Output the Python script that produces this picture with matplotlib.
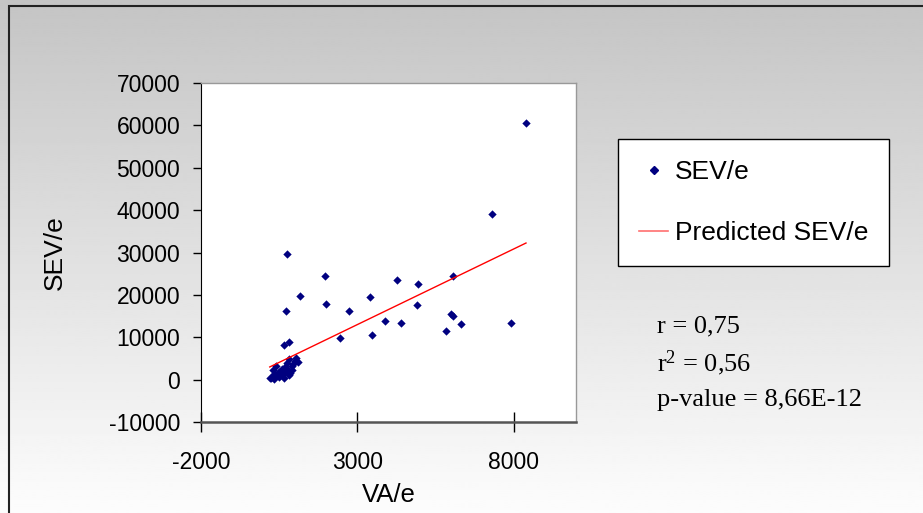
import numpy as np
import matplotlib
matplotlib.use("Agg")
import matplotlib.pyplot as plt
from matplotlib.lines import Line2D
from matplotlib.patches import Rectangle

# --- DATA ---
va_e = [8400, 7300, 750, 1975, 1180, 710, 2000, 2730, 3400, 4280, 4950, 6050,
        4920, 3880, 4400, 3470, 2450, 6010, 6050, 6320, 5850, 7930, 670, 800,
        200, 250, 300, 350, 400, 450, 500, 550, 600, 650, 700, 750, 800, 850,
        700, 400, 300, 900, 950, 1000, 1100, 800, 750, 1050, 600, 500, 900, 350]
sev_e = [60600, 39000, 29700, 24500, 19800, 16100, 17900, 16100, 19500, 23450, 22500, 24500,
         17600, 13800, 13300, 10600, 9900, 15400, 14900, 13100, 11400, 13300, 8200, 8800,
         400, 300, 600, 200, 900, 1500, 700, 2100, 1200, 400, 1800, 2600, 1000, 1600,
         3000, 3200, 2200, 2300, 3800, 4400, 4200, 4800, 4000, 5200, 2600, 1900, 3300, 1400]
stats_lines = ["r = 0,75", "r$^{2}$ = 0,56", "p-value = 8,66E-12"]

x = np.array(va_e, dtype=float)
y = np.array(sev_e, dtype=float)
slope, intercept = np.polyfit(x, y, 1)
x_fit = np.array([x.min(), x.max()])
y_fit = intercept + slope * x_fit

plt.rcParams['font.family'] = ['Liberation Sans', 'DejaVu Sans']
plt.rcParams['axes.unicode_minus'] = False
plt.rcParams['mathtext.fontset'] = 'custom'
plt.rcParams['mathtext.rm'] = 'Liberation Serif'
plt.rcParams['mathtext.it'] = 'Liberation Serif'
plt.rcParams['mathtext.bf'] = 'Liberation Serif'

fig = plt.figure(figsize=(9.23, 5.13), dpi=100)

# gradient background
bg = fig.add_axes([0, 0, 1, 1], zorder=-10)
grad = np.linspace(0.77, 0.99, 256).reshape(-1, 1)
bg.imshow(grad, aspect='auto', cmap='gray', vmin=0, vmax=1, extent=[0, 1, 0, 1])
bg.set_xlim(0, 1)
bg.set_ylim(0, 1)
bg.axis('off')
fig.patches.append(Rectangle((9 / 923, -0.1), 1.2, 1 - 6 / 513 + 0.1, transform=fig.transFigure,
                             fill=False, edgecolor='#222222', linewidth=1.5, zorder=-5))

ax = fig.add_axes([201 / 923, 1 - 422 / 513, 375 / 923, 339 / 513])
ax.set_facecolor('white')
ax.scatter(x, y, marker='D', s=18, color='#000080', linewidths=0, zorder=3)
ax.plot(x_fit, y_fit, color='red', linewidth=1, zorder=4)

ax.set_xlim(-2000, 10000)
ax.set_ylim(-10000, 70000)
ax.set_xticks([-2000, 3000, 8000])
ax.set_yticks(np.arange(-10000, 70001, 10000))
ax.tick_params(axis='y', direction='out', length=6, width=1, labelsize=16.5, pad=9)
ax.tick_params(axis='x', direction='inout', length=14, width=1, labelsize=16.5, pad=14)
for side in ['top', 'right']:
    ax.spines[side].set_color('#999999')
    ax.spines[side].set_linewidth(1)
ax.spines['left'].set_color('black')
ax.spines['bottom'].set_color('#555555')
ax.spines['bottom'].set_linewidth(1.8)
ax.set_xlabel('VA/e', fontsize=18.5, labelpad=6)
ax.set_ylabel('SEV/e', fontsize=19, labelpad=30)

handles = [Line2D([], [], marker='D', color='#000080', linestyle='none', markersize=4),
           Line2D([], [], color='#ff7070', linewidth=1.2)]
leg = fig.legend(handles, ['SEV/e', 'Predicted SEV/e'], loc='upper left',
                 bbox_to_anchor=(618 / 923, 1 - 139 / 513), fontsize=19,
                 frameon=True, fancybox=False, edgecolor='black', facecolor='white',
                 framealpha=1, labelspacing=1.4, borderaxespad=0,
                 handlelength=1.1, handletextpad=0.25, borderpad=0.8)
leg.get_frame().set_linewidth(1)

for i, line in enumerate(stats_lines):
    fig.text(657 / 923, 1 - (326 + i * 37) / 513, line, fontsize=19, va='center', ha='left',
             family=['Liberation Serif', 'DejaVu Serif'])

fig.savefig('out.png', dpi=100)
